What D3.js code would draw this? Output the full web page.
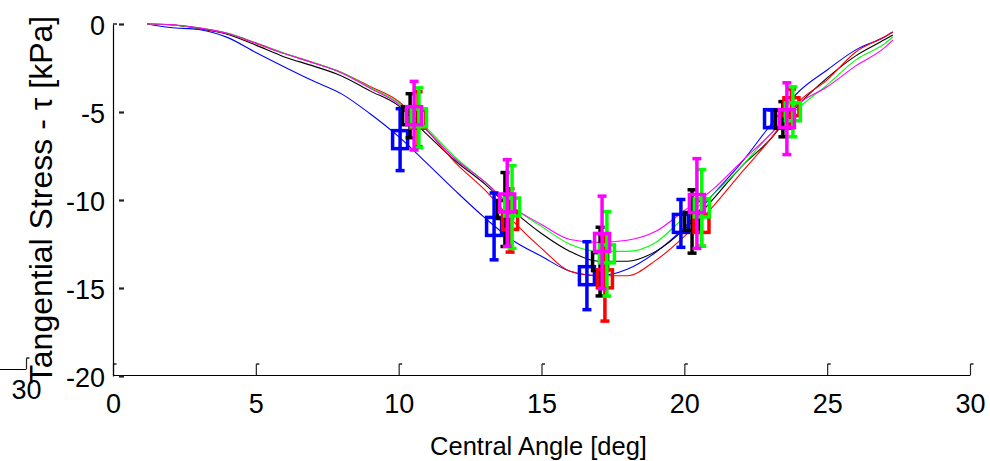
<!DOCTYPE html>
<html>
<head>
<meta charset="utf-8">
<script src="https://cdn.jsdelivr.net/npm/d3@7"></script>
<style>
  html, body { margin: 0; padding: 0; background: #fff; }
  svg { display: block; }
  text { font-family: "Liberation Sans", Arial, sans-serif; fill: #000; }
</style>
</head>
<body>
<svg id="chart" width="990" height="461"></svg>
<script>
// Central angle samples [deg] shared by the five stress traces
const angle = [1.2, 2, 3, 4, 5, 6, 7, 8, 9, 10, 11, 12, 13, 14, 15, 16, 17, 18, 19, 20, 21, 22, 23, 24, 25, 26, 27, 27.3];

// Tangential stress traces [kPa]
const tauBlue    = [0, -0.2, -0.31, -0.76, -1.62, -2.44, -3.23, -3.97, -5.1, -6.4, -7.93, -9.5, -10.99, -12.3, -13.2, -14.05, -14.3, -13.94, -12.97, -11.56, -9.7, -7.88, -5.78, -3.85, -2.61, -1.47, -0.74, -0.45];
const tauBlack   = [0, -0.04, -0.25, -0.58, -1.2, -1.87, -2.38, -2.95, -3.8, -4.65, -6.29, -7.8, -9.07, -10.6, -11.9, -12.92, -13.48, -13.48, -12.92, -11.67, -9.97, -8.1, -6.57, -4.59, -3.06, -1.81, -0.9, -0.62];
const tauRed     = [0, -0.04, -0.23, -0.54, -1.1, -1.68, -2.2, -2.75, -3.55, -4.4, -6.06, -7.9, -9.4, -11.2, -12.75, -14.05, -14.3, -14.3, -13.43, -12.07, -10.37, -8.44, -6.57, -4.42, -3.17, -1.59, -0.74, -0.45];
const tauGreen   = [0, -0.04, -0.22, -0.52, -1.07, -1.66, -2.18, -2.75, -3.6, -4.48, -5.95, -7.6, -8.95, -10.42, -11.5, -12.52, -12.92, -12.92, -12.41, -10.99, -9.69, -8.1, -6.29, -4.76, -3.46, -2.04, -1.13, -0.74];
const tauMagenta = [0, -0.03, -0.22, -0.53, -1.08, -1.68, -2.2, -2.78, -3.65, -4.55, -6.06, -7.7, -8.95, -10.42, -11.39, -12.24, -12.41, -12.29, -11.78, -10.6, -9.4, -7.82, -6.29, -4.53, -3.57, -2.38, -1.36, -0.91];

// Measured points: angle, mean stress and half error bar
const ptAngleBlue = [10.05, 13.34, 16.59, 19.88, 23.07];
const ptTauBlue   = [-6.57, -11.5, -14.3, -11.33, -5.38];
const ptErrBlue   = [1.76, 1.9, 1.93, 1.36, 0.5];

const ptAngleBlack = [10.4, 13.72, 17.05, 20.27, 23.45];
const ptTauBlack   = [-5.21, -10.54, -13.5, -11.22, -5.41];
const ptErrBlack   = [1.25, 2.1, 1.95, 1.8, 1.0];

const ptAngleRed = [10.68, 13.9, 17.22, 20.6, 23.75];
const ptTauRed   = [-5.41, -11.16, -14.48, -11.33, -4.7];
const ptErrRed   = [1.56, 1.8, 2.4, 1.3, 1.0];

const ptAngleGreen = [10.71, 13.97, 17.29, 20.61, 23.8];
const ptTauGreen   = [-5.33, -10.4, -13.06, -10.45, -4.99];
const ptErrGreen   = [1.7, 2.35, 2.4, 2.18, 1.42];

const ptAngleMagenta = [10.54, 13.8, 17.12, 20.44, 23.59];
const ptTauMagenta   = [-5.21, -10.17, -12.41, -10.2, -5.38];
const ptErrMagenta   = [1.95, 2.46, 2.63, 2.55, 2.04];

// Axis ticks and titles
const xTicks = [0, 5, 10, 15, 20, 25, 30];
const yTicks = [0, -5, -10, -15, -20];
const xTitle = "Central Angle [deg]";
const yTitle = "Tangential Stress - \u03c4 [kPa]";

const series = [
  { color: "#0000ff", tau: tauBlue,    px: ptAngleBlue,    py: ptTauBlue,    pe: ptErrBlue },
  { color: "#000000", tau: tauBlack,   px: ptAngleBlack,   py: ptTauBlack,   pe: ptErrBlack },
  { color: "#ff0000", tau: tauRed,     px: ptAngleRed,     py: ptTauRed,     pe: ptErrRed },
  { color: "#00ff00", tau: tauGreen,   px: ptAngleGreen,   py: ptTauGreen,   pe: ptErrGreen },
  { color: "#ff00ff", tau: tauMagenta, px: ptAngleMagenta, py: ptTauMagenta, pe: ptErrMagenta }
];

const svg = d3.select("#chart");
svg.append("rect").attr("width", 990).attr("height", 461).attr("fill", "#fff");

const x = d3.scaleLinear().domain([0, 30]).range([113, 970]);
const y = d3.scaleLinear().domain([0, -20]).range([24, 376]);
const plain = d => String(d); // hyphen-minus labels

// ---- x axis (ticks point inward with a small hook) ----
function drawXAxis(g, ticks, padding) {
  const axis = d3.axisBottom(x).tickValues(ticks).tickFormat(plain)
    .tickSizeInner(-11).tickSizeOuter(0).tickPadding(padding);
  g.call(axis);
  g.select(".domain").attr("stroke", "#000").attr("stroke-width", 1.2);
  g.selectAll(".tick line").attr("stroke", "#222").attr("stroke-width", 1.2);
  g.selectAll(".tick").append("path")
    .attr("d", "M0,-11h3").attr("stroke", "#222").attr("stroke-width", 1.5).attr("fill", "none");
  g.selectAll(".tick text").attr("font-size", 27).attr("fill", "#000")
    .attr("font-family", "'Liberation Sans', Arial, sans-serif");
}

const gx = svg.append("g").attr("transform", "translate(0,375)");
drawXAxis(gx, xTicks, 19);

// stray copy of the axis end at the left border
const gx2 = svg.append("g").attr("transform", `translate(${26 - x(30)},369)`);
drawXAxis(gx2, xTicks.slice(-1), 11);

// ---- y axis ----
const gy = svg.append("g").attr("transform", "translate(113,0)");
gy.call(d3.axisLeft(y).tickValues(yTicks).tickFormat(plain).tickSizeInner(0).tickSizeOuter(0).tickPadding(8));
gy.select(".domain").attr("stroke", "#000").attr("stroke-width", 1.2);
gy.selectAll(".tick").append("line")
  .attr("x1", 6).attr("x2", 11).attr("stroke", "#222").attr("stroke-width", 2.2);
gy.selectAll(".tick text").attr("font-size", 27).attr("dy", "0.4em")
  .attr("font-family", "'Liberation Sans', Arial, sans-serif");
gy.append("path").attr("d", `M0,${y(0)}h4`).attr("stroke", "#222").attr("stroke-width", 1.5);

// ---- axis titles ----
svg.append("text")
  .attr("x", x(15) - 3).attr("y", 455)
  .attr("text-anchor", "middle").attr("font-size", 25.5)
  .text(xTitle);

svg.append("text")
  .attr("transform", "translate(52,200) rotate(-90)")
  .attr("text-anchor", "middle").attr("font-size", 32)
  .text(yTitle);

// ---- stress traces ----
const line = d3.line()
  .x(d => x(d[0]))
  .y(d => y(d[1]))
  .curve(d3.curveMonotoneX);

const gLines = svg.append("g");
series.forEach(s => {
  gLines.append("path")
    .datum(angle.map((a, i) => [a, s.tau[i]]))
    .attr("d", line)
    .attr("fill", "none")
    .attr("stroke", s.color)
    .attr("stroke-width", 1.1);
});

// ---- measured points with error bars ----
const gPts = svg.append("g");
const capHalf = 4.5, boxW = 15, boxH = 18, sw = 3.5;
series.forEach(s => {
  s.px.forEach((a, i) => {
    const cx = x(a), cy = y(s.py[i]);
    const top = y(s.py[i] + s.pe[i]), bot = y(s.py[i] - s.pe[i]);
    const g = gPts.append("g").attr("stroke", s.color).attr("stroke-width", sw).attr("fill", "none");
    g.append("line").attr("x1", cx).attr("x2", cx).attr("y1", top).attr("y2", bot);
    g.append("line").attr("x1", cx - capHalf).attr("x2", cx + capHalf).attr("y1", top).attr("y2", top);
    g.append("line").attr("x1", cx - capHalf).attr("x2", cx + capHalf).attr("y1", bot).attr("y2", bot);
    g.append("rect").attr("x", cx - boxW / 2).attr("y", cy - boxH / 2)
      .attr("width", boxW).attr("height", boxH);
  });
});
</script>
</body>
</html>
